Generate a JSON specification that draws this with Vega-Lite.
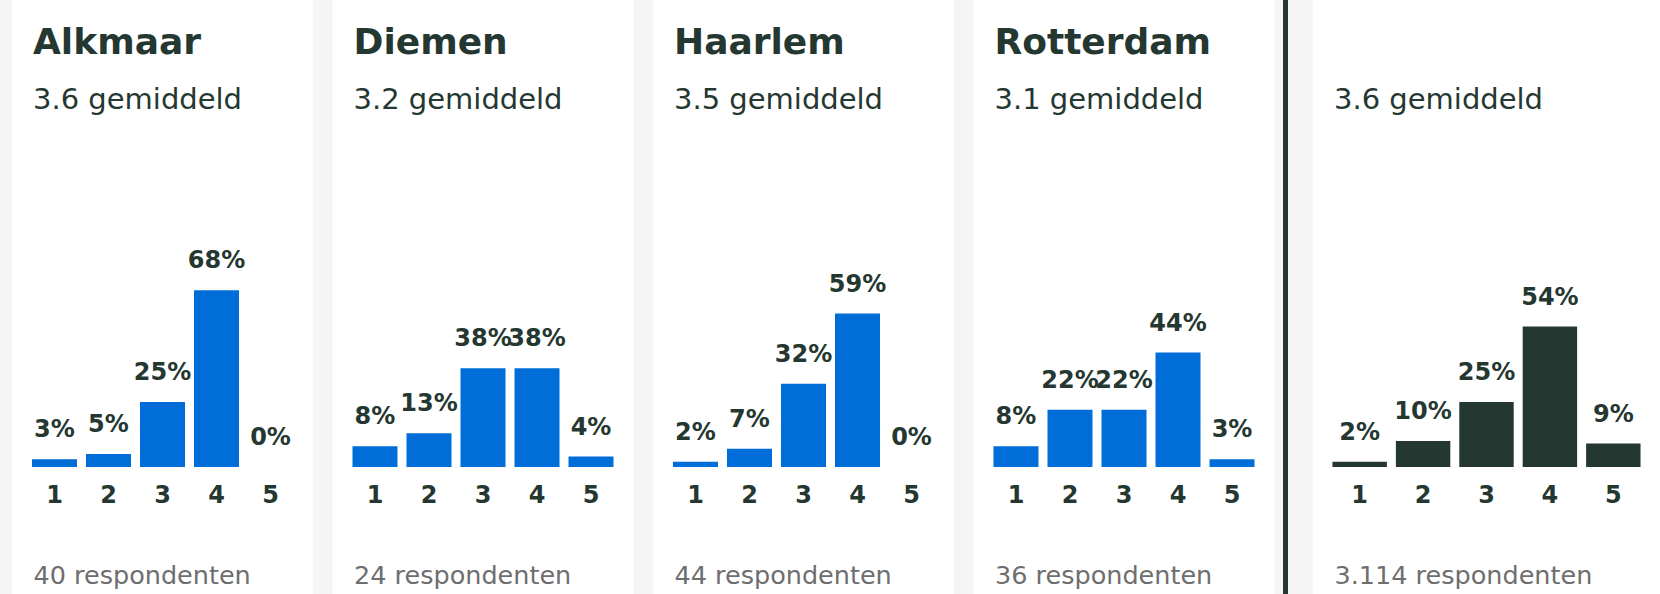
{
  "$schema": "https://vega.github.io/schema/vega-lite/v6.json",
  "background": "#f5f5f5",
  "padding": {"left": 12, "top": 0, "right": 0, "bottom": 0},
  "config": {
    "view": {"fill": "white", "stroke": null},
    "font": "DejaVu Sans",
    "axis": {"grid": false},
    "title": {
      "anchor": "start",
      "frame": "group",
      "orient": "top",
      "offset": -116,
      "dx": 21,
      "font": "DejaVu Sans",
      "fontSize": 36,
      "fontWeight": "bold",
      "color": "#253731",
      "subtitleFont": "DejaVu Sans",
      "subtitleFontSize": 29,
      "subtitleFontWeight": "normal",
      "subtitleColor": "#253731",
      "subtitlePadding": 24
    }
  },
  "datasets": {
    "scores": [
      {"city": "Alkmaar", "score": "1", "pct": 0.03},
      {"city": "Alkmaar", "score": "2", "pct": 0.05},
      {"city": "Alkmaar", "score": "3", "pct": 0.25},
      {"city": "Alkmaar", "score": "4", "pct": 0.68},
      {"city": "Alkmaar", "score": "5", "pct": 0.0},
      {"city": "Diemen", "score": "1", "pct": 0.08},
      {"city": "Diemen", "score": "2", "pct": 0.13},
      {"city": "Diemen", "score": "3", "pct": 0.38},
      {"city": "Diemen", "score": "4", "pct": 0.38},
      {"city": "Diemen", "score": "5", "pct": 0.04},
      {"city": "Haarlem", "score": "1", "pct": 0.02},
      {"city": "Haarlem", "score": "2", "pct": 0.07},
      {"city": "Haarlem", "score": "3", "pct": 0.32},
      {"city": "Haarlem", "score": "4", "pct": 0.59},
      {"city": "Haarlem", "score": "5", "pct": 0.0},
      {"city": "Rotterdam", "score": "1", "pct": 0.08},
      {"city": "Rotterdam", "score": "2", "pct": 0.22},
      {"city": "Rotterdam", "score": "3", "pct": 0.22},
      {"city": "Rotterdam", "score": "4", "pct": 0.44},
      {"city": "Rotterdam", "score": "5", "pct": 0.03},
      {"city": "Totaal", "score": "1", "pct": 0.02},
      {"city": "Totaal", "score": "2", "pct": 0.10},
      {"city": "Totaal", "score": "3", "pct": 0.25},
      {"city": "Totaal", "score": "4", "pct": 0.54},
      {"city": "Totaal", "score": "5", "pct": 0.09}
    ]
  },
  "spacing": 8,
  "hconcat": [
    {
      "spacing": 19.5,
      "hconcat": [
        {
          "width": 301, "height": 594,
          "data": {"name": "scores"},
          "transform": [{"filter": "datum.city === 'Alkmaar'"}],
          "title": {"text": "Alkmaar", "subtitle": "3.6 gemiddeld"},
          "encoding": {
            "x": {"field": "score", "type": "ordinal", "sort": null,
              "scale": {"paddingInner": 0.1667, "paddingOuter": 0.37},
              "axis": {"orient": "bottom", "offset": -127, "domain": false, "ticks": false, "labelAngle": 0,
                "labelFont": "DejaVu Sans", "labelFontSize": 24, "labelFontWeight": "bold", "labelColor": "#253731", "labelPadding": 16,
                "title": "40 respondenten", "titleFont": "DejaVu Sans", "titleFontSize": 25.5, "titleFontWeight": "normal", "titleColor": "#6e6e6e",
                "titleAnchor": "start", "titleAlign": "left", "titleX": 21, "titleY": 116, "titleBaseline": "alphabetic"}},
            "y": {"field": "pct", "type": "quantitative", "scale": {"domain": [-0.48846, 1.79615], "nice": false}, "axis": null}
          },
          "layer": [
            {"mark": {"type": "bar", "color": "#006dd9"}, "encoding": {"y2": {"datum": 0}}},
            {"mark": {"type": "text", "baseline": "alphabetic", "dy": -22, "font": "DejaVu Sans", "fontSize": 24, "fontWeight": "bold", "color": "#253731"},
              "encoding": {"text": {"field": "pct", "format": ".0%"}}}
          ]
        },
        {
          "width": 301, "height": 594,
          "data": {"name": "scores"},
          "transform": [{"filter": "datum.city === 'Diemen'"}],
          "title": {"text": "Diemen", "subtitle": "3.2 gemiddeld"},
          "encoding": {
            "x": {"field": "score", "type": "ordinal", "sort": null,
              "scale": {"paddingInner": 0.1667, "paddingOuter": 0.37},
              "axis": {"orient": "bottom", "offset": -127, "domain": false, "ticks": false, "labelAngle": 0,
                "labelFont": "DejaVu Sans", "labelFontSize": 24, "labelFontWeight": "bold", "labelColor": "#253731", "labelPadding": 16,
                "title": "24 respondenten", "titleFont": "DejaVu Sans", "titleFontSize": 25.5, "titleFontWeight": "normal", "titleColor": "#6e6e6e",
                "titleAnchor": "start", "titleAlign": "left", "titleX": 21, "titleY": 116, "titleBaseline": "alphabetic"}},
            "y": {"field": "pct", "type": "quantitative", "scale": {"domain": [-0.48846, 1.79615], "nice": false}, "axis": null}
          },
          "layer": [
            {"mark": {"type": "bar", "color": "#006dd9"}, "encoding": {"y2": {"datum": 0}}},
            {"mark": {"type": "text", "baseline": "alphabetic", "dy": -22, "font": "DejaVu Sans", "fontSize": 24, "fontWeight": "bold", "color": "#253731"},
              "encoding": {"text": {"field": "pct", "format": ".0%"}}}
          ]
        },
        {
          "width": 301, "height": 594,
          "data": {"name": "scores"},
          "transform": [{"filter": "datum.city === 'Haarlem'"}],
          "title": {"text": "Haarlem", "subtitle": "3.5 gemiddeld"},
          "encoding": {
            "x": {"field": "score", "type": "ordinal", "sort": null,
              "scale": {"paddingInner": 0.1667, "paddingOuter": 0.37},
              "axis": {"orient": "bottom", "offset": -127, "domain": false, "ticks": false, "labelAngle": 0,
                "labelFont": "DejaVu Sans", "labelFontSize": 24, "labelFontWeight": "bold", "labelColor": "#253731", "labelPadding": 16,
                "title": "44 respondenten", "titleFont": "DejaVu Sans", "titleFontSize": 25.5, "titleFontWeight": "normal", "titleColor": "#6e6e6e",
                "titleAnchor": "start", "titleAlign": "left", "titleX": 21, "titleY": 116, "titleBaseline": "alphabetic"}},
            "y": {"field": "pct", "type": "quantitative", "scale": {"domain": [-0.48846, 1.79615], "nice": false}, "axis": null}
          },
          "layer": [
            {"mark": {"type": "bar", "color": "#006dd9"}, "encoding": {"y2": {"datum": 0}}},
            {"mark": {"type": "text", "baseline": "alphabetic", "dy": -22, "font": "DejaVu Sans", "fontSize": 24, "fontWeight": "bold", "color": "#253731"},
              "encoding": {"text": {"field": "pct", "format": ".0%"}}}
          ]
        },
        {
          "width": 301, "height": 594,
          "data": {"name": "scores"},
          "transform": [{"filter": "datum.city === 'Rotterdam'"}],
          "title": {"text": "Rotterdam", "subtitle": "3.1 gemiddeld"},
          "encoding": {
            "x": {"field": "score", "type": "ordinal", "sort": null,
              "scale": {"paddingInner": 0.1667, "paddingOuter": 0.37},
              "axis": {"orient": "bottom", "offset": -127, "domain": false, "ticks": false, "labelAngle": 0,
                "labelFont": "DejaVu Sans", "labelFontSize": 24, "labelFontWeight": "bold", "labelColor": "#253731", "labelPadding": 16,
                "title": "36 respondenten", "titleFont": "DejaVu Sans", "titleFontSize": 25.5, "titleFontWeight": "normal", "titleColor": "#6e6e6e",
                "titleAnchor": "start", "titleAlign": "left", "titleX": 21, "titleY": 116, "titleBaseline": "alphabetic"}},
            "y": {"field": "pct", "type": "quantitative", "scale": {"domain": [-0.48846, 1.79615], "nice": false}, "axis": null}
          },
          "layer": [
            {"mark": {"type": "bar", "color": "#006dd9"}, "encoding": {"y2": {"datum": 0}}},
            {"mark": {"type": "text", "baseline": "alphabetic", "dy": -22, "font": "DejaVu Sans", "fontSize": 24, "fontWeight": "bold", "color": "#253731"},
              "encoding": {"text": {"field": "pct", "format": ".0%"}}}
          ]
        }
      ]
    },
    {
      "spacing": 25,
      "hconcat": [
        {
          "width": 5, "height": 594,
          "view": {"fill": "#253731", "stroke": null},
          "data": {"values": [{}]},
          "mark": {"type": "text"},
          "encoding": {"text": {"value": ""}}
        },
        {
          "width": 347, "height": 594,
          "data": {"name": "scores"},
          "transform": [{"filter": "datum.city === 'Totaal'"}],
          "title": {"text": " ", "subtitle": "3.6 gemiddeld"},
          "encoding": {
            "x": {"field": "score", "type": "ordinal", "sort": null,
              "scale": {"paddingInner": 0.1417, "paddingOuter": 0.307},
              "axis": {"orient": "bottom", "offset": -127, "domain": false, "ticks": false, "labelAngle": 0,
                "labelFont": "DejaVu Sans", "labelFontSize": 24, "labelFontWeight": "bold", "labelColor": "#253731", "labelPadding": 16,
                "title": "3.114 respondenten", "titleFont": "DejaVu Sans", "titleFontSize": 25.5, "titleFontWeight": "normal", "titleColor": "#6e6e6e",
                "titleAnchor": "start", "titleAlign": "left", "titleX": 21, "titleY": 116, "titleBaseline": "alphabetic"}},
            "y": {"field": "pct", "type": "quantitative", "scale": {"domain": [-0.48846, 1.79615], "nice": false}, "axis": null}
          },
          "layer": [
            {"mark": {"type": "bar", "color": "#253731"}, "encoding": {"y2": {"datum": 0}}},
            {"mark": {"type": "text", "baseline": "alphabetic", "dy": -22, "font": "DejaVu Sans", "fontSize": 24, "fontWeight": "bold", "color": "#253731"},
              "encoding": {"text": {"field": "pct", "format": ".0%"}}}
          ]
        }
      ]
    }
  ]
}
